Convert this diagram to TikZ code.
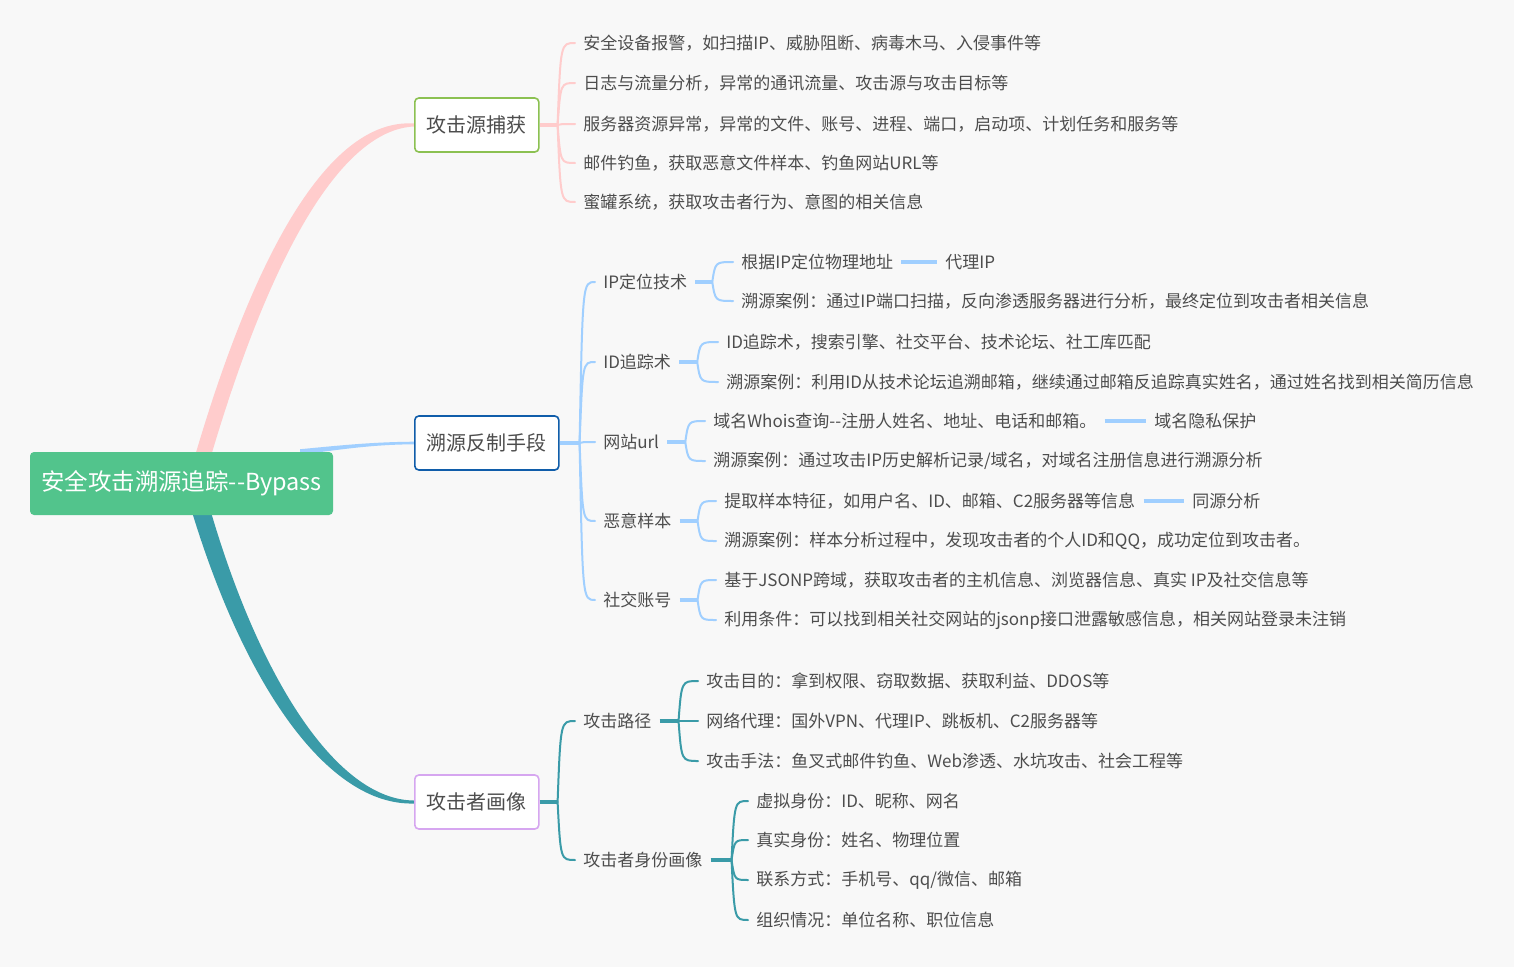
\documentclass[tikz,border=0pt]{standalone}
\usepackage{fontspec}
\setmainfont{Noto Sans CJK SC}
\usetikzlibrary{calc}
\definecolor{bg}{HTML}{F8F8F8}
\definecolor{pinkc}{HTML}{FFCCCC}
\definecolor{bluec}{HTML}{A0CFFF}
\definecolor{tealc}{HTML}{3A9BA8}
\definecolor{rootc}{HTML}{52C48C}
\definecolor{txt}{HTML}{4D4D4D}
\definecolor{bgreen}{HTML}{8CC152}
\definecolor{bblue}{HTML}{105DAA}
\definecolor{bpurple}{HTML}{D6A6F0}
\pgfdeclarelayer{back}
\pgfdeclarelayer{background}
\pgfsetlayers{back,background,main}
\newcommand{\brc}[3]{\draw[br=#1] (#2) .. controls ($(#2 |- #3.west)+(3,0)$) and ($(#2 |- #3.west)+(3,0)$) .. (#3.west);}
\tikzset{
  leaf/.style={anchor=west, inner xsep=6pt, inner ysep=1pt, text=txt, font=\fontsize{12.75}{15}\selectfont},
  mbox/.style={anchor=west, fill=white, draw=#1, line width=1.2pt, rounded corners=3pt, inner xsep=9pt, minimum height=40.5pt, text=txt, font=\fontsize{15}{18}\selectfont},
  root/.style={fill=rootc, rounded corners=3pt, text=white, minimum width=227.25pt, minimum height=47.25pt, font=\fontsize{17.6}{20}\selectfont},
  br/.style={line width=1.5pt, draw=#1, line cap=round},
  stub/.style={line width=2.6pt, draw=#1},
  alt/.style={line width=2.4pt, draw=bluec},
}
\begin{document}
\begin{tikzpicture}[x=0.75pt, y=-0.75pt]
\begin{pgfonlayer}{back}
\fill[bg] (0,0) rectangle (1514,967);
\end{pgfonlayer}
\useasboundingbox (0,0) rectangle (1514,967);

% root and main boxes
\node[root] (root) at (181.5,483.5) {安全攻击溯源追踪-{}-Bypass};
\node[mbox=bgreen] (b1) at (414,125) {攻击源捕获};
\node[mbox=bblue] (b2) at (414,443) {溯源反制手段};
\node[mbox=bpurple] (b3) at (414,802) {攻击者画像};

% tapered main branches
\begin{pgfonlayer}{background}
\fill[pinkc] ($(root.north)+(9.5,18)$) .. controls ($(b1.west)+(-160,125)$) and ($(b1.west)+(-84,-7)$) .. ($(b1.west)+(0,-1.5)$)
  -- ($(b1.west)+(0,1.5)$) .. controls ($(b1.west)+(-74,5)$) and ($(b1.west)+(-146,133)$) .. ($(root.north)+(25.5,18)$) -- cycle;
\fill[bluec] ($(root.north)+(118.5,-2.5)$) .. controls ($(b2.west)+(-70,2)$) and ($(b2.west)+(-40,-1)$) .. ($(b2.west)+(0,-1.3)$)
  -- ($(b2.west)+(0,1.3)$) .. controls ($(b2.west)+(-40,1.5)$) and ($(b2.west)+(-70,6)$) .. ($(root.north)+(118.5,3)$) -- cycle;
\fill[tealc] ($(root.south)+(27.5,-10)$) .. controls ($(b3.west)+(-156,-126)$) and ($(b3.west)+(-78,-2)$) .. ($(b3.west)+(0,-1.5)$)
  -- ($(b3.west)+(0,1.5)$) .. controls ($(b3.west)+(-86,4)$) and ($(b3.west)+(-170,-116)$) .. ($(root.south)+(8.5,-10)$) -- cycle;
\end{pgfonlayer}

% ---------- top branch ----------
\coordinate (j1) at ($(b1.east)+(18,0)$);
\node[leaf] (t1) at (575,43) {安全设备报警，如扫描IP、威胁阻断、病毒木马、入侵事件等};
\node[leaf] (t2) at (575,83) {日志与流量分析，异常的通讯流量、攻击源与攻击目标等};
\node[leaf] (t3) at (575,124) {服务器资源异常，异常的文件、账号、进程、端口，启动项、计划任务和服务等};
\node[leaf] (t4) at (575,163) {邮件钓鱼，获取恶意文件样本、钓鱼网站URL等};
\node[leaf] (t5) at (575,202) {蜜罐系统，获取攻击者行为、意图的相关信息};
\draw[stub=pinkc] (b1.east) -- (j1);
\foreach \c in {t1,t2,t3,t4,t5}{\brc{pinkc}{j1}{\c}}

% ---------- middle branch ----------
\coordinate (j2) at ($(b2.east)+(20,0)$);
\node[leaf] (m1) at (595,282) {IP定位技术};
\node[leaf] (m2) at (595,362) {ID追踪术};
\node[leaf] (m3) at (595,442) {网站url};
\node[leaf] (m4) at (595,521) {恶意样本};
\node[leaf] (m5) at (595,600) {社交账号};
\draw[stub=bluec] (b2.east) -- (j2);
\foreach \c in {m1,m2,m3,m4,m5}{\brc{bluec}{j2}{\c}}

\node[leaf] (m11) at (733,262) {根据IP定位物理地址};
\node[leaf] (m12) at (733,301) {溯源案例：通过IP端口扫描，反向渗透服务器进行分析，最终定位到攻击者相关信息};
\node[leaf] (a1) at (937,262) {代理IP};
\coordinate (k1) at ($(m1.east)+(17,0)$);
\draw[stub=bluec] (m1.east) -- (k1);
\brc{bluec}{k1}{m11} \brc{bluec}{k1}{m12}
\draw[alt] (m11.east) -- (a1.west);

\node[leaf] (m21) at (718,342) {ID追踪术，搜索引擎、社交平台、技术论坛、社工库匹配};
\node[leaf] (m22) at (718,382) {溯源案例：利用ID从技术论坛追溯邮箱，继续通过邮箱反追踪真实姓名，通过姓名找到相关简历信息};
\coordinate (k2) at ($(m2.east)+(18,0)$);
\draw[stub=bluec] (m2.east) -- (k2);
\brc{bluec}{k2}{m21} \brc{bluec}{k2}{m22}

\node[leaf] (m31) at (705,421) {域名Whois查询-{}-注册人姓名、地址、电话和邮箱。};
\node[leaf] (m32) at (705,461) {溯源案例：通过攻击IP历史解析记录/域名，对域名注册信息进行溯源分析};
\node[leaf] (a2) at (1146,421) {域名隐私保护};
\coordinate (k3) at ($(m3.east)+(18,0)$);
\draw[stub=bluec] (m3.east) -- (k3);
\brc{bluec}{k3}{m31} \brc{bluec}{k3}{m32}
\draw[alt] (m31.east) -- (a2.west);

\node[leaf] (m41) at (716,501) {提取样本特征，如用户名、ID、邮箱、C2服务器等信息};
\node[leaf] (m42) at (716,541) {溯源案例：样本分析过程中，发现攻击者的个人ID和QQ，成功定位到攻击者。};
\node[leaf] (a3) at (1184,501) {同源分析};
\coordinate (k4) at ($(m4.east)+(18,0)$);
\draw[stub=bluec] (m4.east) -- (k4);
\brc{bluec}{k4}{m41} \brc{bluec}{k4}{m42}
\draw[alt] (m41.east) -- (a3.west);

\node[leaf] (m51) at (716,580) {基于JSONP跨域，获取攻击者的主机信息、浏览器信息、真实 IP及社交信息等};
\node[leaf] (m52) at (716,620) {利用条件：可以找到相关社交网站的jsonp接口泄露敏感信息，相关网站登录未注销};
\coordinate (k5) at ($(m5.east)+(18,0)$);
\draw[stub=bluec] (m5.east) -- (k5);
\brc{bluec}{k5}{m51} \brc{bluec}{k5}{m52}

% ---------- bottom branch ----------
\coordinate (j3) at ($(b3.east)+(18,0)$);
\node[leaf] (p1) at (575,721) {攻击路径};
\node[leaf] (p2) at (575,860) {攻击者身份画像};
\draw[stub=tealc] (b3.east) -- (j3);
\brc{tealc}{j3}{p1} \brc{tealc}{j3}{p2}

\node[leaf] (p11) at (698,681) {攻击目的：拿到权限、窃取数据、获取利益、DDOS等};
\node[leaf] (p12) at (698,721) {网络代理：国外VPN、代理IP、跳板机、C2服务器等};
\node[leaf] (p13) at (698,761) {攻击手法：鱼叉式邮件钓鱼、Web渗透、水坑攻击、社会工程等};
\coordinate (q1) at ($(p1.east)+(19,0)$);
\draw[stub=tealc] (p1.east) -- (q1);
\foreach \c in {p11,p12,p13}{\brc{tealc}{q1}{\c}}

\node[leaf] (p21) at (748,801) {虚拟身份：ID、昵称、网名};
\node[leaf] (p22) at (748,840) {真实身份：姓名、物理位置};
\node[leaf] (p23) at (748,880) {联系方式：手机号、qq/微信、邮箱};
\node[leaf] (p24) at (748,920) {组织情况：单位名称、职位信息};
\coordinate (q2) at ($(p2.east)+(21,0)$);
\draw[stub=tealc] (p2.east) -- (q2);
\foreach \c in {p21,p22,p23,p24}{\brc{tealc}{q2}{\c}}
\end{tikzpicture}
\end{document}
